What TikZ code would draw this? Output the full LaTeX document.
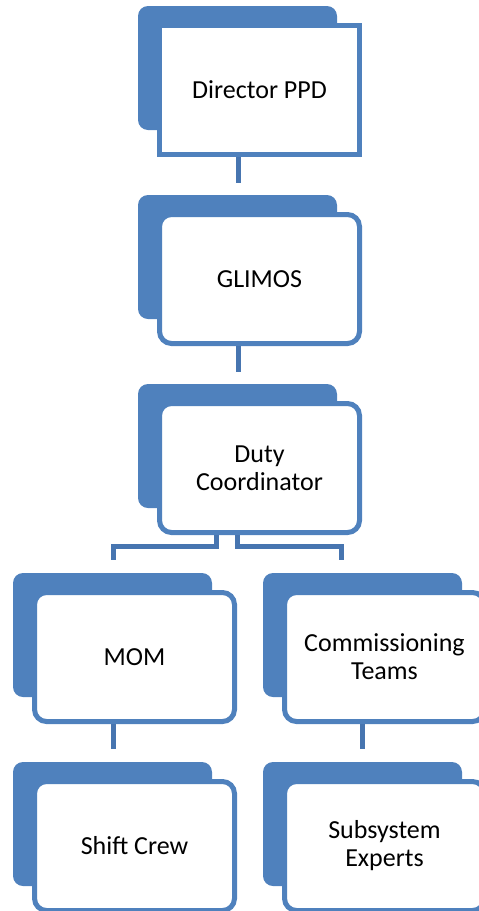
\documentclass[tikz,border=0pt]{standalone}
\usepackage{fontspec}
\setmainfont{Carlito}
\definecolor{boxblue}{HTML}{4F81BD}
\definecolor{linkblue}{HTML}{4775B0}

\begin{document}
\begin{tikzpicture}[x=1pt, y=-1pt,
  back/.style={fill=boxblue, rounded corners=10pt, minimum width=199pt, minimum height=124pt, inner sep=0pt},
  front/.style={draw=boxblue, fill=white, line width=5pt, rounded corners=12pt, minimum width=200pt, minimum height=129pt, inner sep=0pt, align=center, font=\fontsize{26}{28}\selectfont},
  link/.style={draw=linkblue, line width=5pt}]
\useasboundingbox (0,0) rectangle (479,911);
\clip (0,0) rectangle (479,911);

\node[back] (dirbk) at (138 + 99.5, 6 + 62) {};
\node[front, sharp corners] (dir) at (138 + 121.5, 6 + 84) {Director PPD};

\node[back] (glibk) at (138 + 99.5, 195 + 62) {};
\node[front] (gli) at (138 + 121.5, 195 + 84) {GLIMOS};

\node[back] (dutybk) at (138 + 99.5, 384 + 62) {};
\node[front] (duty) at (138 + 121.5, 384 + 84) {Duty\\Coordinator};

\node[back] (mombk) at (13 + 99.5, 573 + 62) {};
\node[front] (mom) at (13 + 121.5, 573 + 84) {MOM};

\node[back] (commbk) at (263 + 99.5, 573 + 62) {};
\node[front] (comm) at (263 + 121.5, 573 + 84) {Commissioning\\Teams};

\node[back] (shiftbk) at (13 + 99.5, 762 + 62) {};
\node[front] (shift) at (13 + 121.5, 762 + 84) {Shift Crew};

\node[back] (subbk) at (263 + 99.5, 762 + 62) {};
\node[front] (sub) at (263 + 121.5, 762 + 84) {Subsystem\\Experts};

\coordinate (c1) at (238, 183);
\coordinate (c2) at (238, 372);
\coordinate (c3) at (113.5, 560);
\coordinate (c4) at (341.5, 560);
\coordinate (c5) at (113.5, 749);
\coordinate (c6) at (362.5, 749);

\draw[link] (c1 |- dir.south) -- (c1);
\draw[link] (c2 |- gli.south) -- (c2);
\draw[link] ([xshift=-43pt]duty.south) -- ++(0,11.5) -| (c3);
\draw[link] ([xshift=-22pt]duty.south) -- ++(0,11.5) -| (c4);
\draw[link] (c5 |- mom.south) -- (c5);
\draw[link] (c6 |- comm.south) -- (c6);

\end{tikzpicture}
\end{document}
